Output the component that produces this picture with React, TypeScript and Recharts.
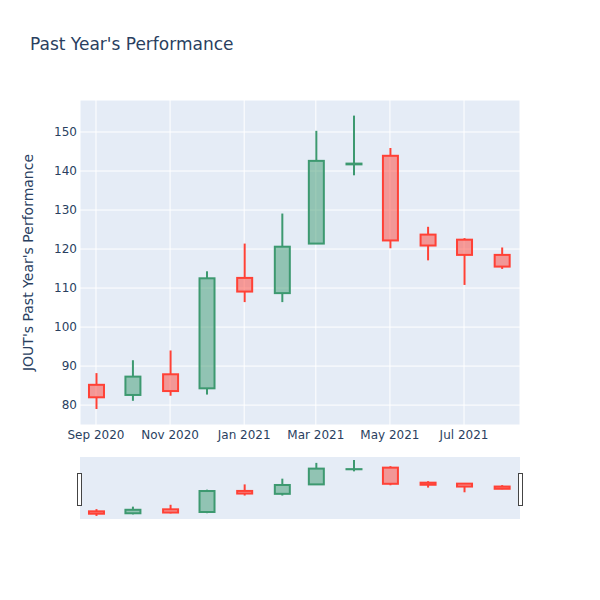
import React from 'react';
import { ComposedChart, Bar, XAxis, YAxis, CartesianGrid } from 'recharts';

// monthly candles
const dates = [
  '2020-09-01', '2020-10-01', '2020-11-01', '2020-12-01', '2021-01-01', '2021-02-01',
  '2021-03-01', '2021-04-01', '2021-05-01', '2021-06-01', '2021-07-01', '2021-08-01',
];
const openVals = [85.2, 82.6, 87.9, 84.3, 112.6, 108.7, 121.4, 141.7, 143.9, 123.7, 122.4, 118.5];
const highVals = [88.2, 91.5, 94.0, 114.3, 121.4, 129.1, 150.3, 154.2, 145.9, 125.7, 122.8, 120.4];
const lowVals = [79.0, 81.1, 82.4, 82.7, 106.4, 106.4, 121.3, 138.9, 120.2, 117.1, 110.8, 114.9];
const closeVals = [82.0, 87.3, 83.6, 112.5, 109.1, 120.6, 142.6, 141.9, 122.2, 120.9, 118.5, 115.5];

const xTickDates = ['2020-09-01', '2020-11-01', '2021-01-01', '2021-03-01', '2021-05-01', '2021-07-01'];
const yTicks = [80, 90, 100, 110, 120, 130, 140, 150];
const MONTHS = ['Jan', 'Feb', 'Mar', 'Apr', 'May', 'Jun', 'Jul', 'Aug', 'Sep', 'Oct', 'Nov', 'Dec'];

const ts = (s: string) => new Date(s + 'T00:00:00Z').getTime();

const data = dates.map((d, i) => ({
  t: ts(d),
  open: openVals[i],
  high: highVals[i],
  low: lowVals[i],
  close: closeVals[i],
}));

const xDomain = [Date.UTC(2020, 7, 18, 20), Date.UTC(2021, 7, 16, 2)];
const yDomain = [74.9, 158.2];

const UP = '#3D9970';
const DOWN = '#FF4136';
const FONT = '"DejaVu Sans", verdana, arial, sans-serif';
const INK = '#2a3f5f';

const fmtTick = (v: number) => {
  const d = new Date(v);
  return `${MONTHS[d.getUTCMonth()]} ${d.getUTCFullYear()}`;
};

const Candle = (props: any) => {
  const { x, y, width, height } = props;
  const p = props.payload || props;
  const top = Math.min(y, y + height);
  const h = Math.abs(height);
  const k = h / (p.high - p.low || 1);
  const up = p.close >= p.open;
  const color = up ? UP : DOWN;
  const cx = x + width / 2;
  const bodyTop = top + (p.high - Math.max(p.open, p.close)) * k;
  const bodyBot = top + (p.high - Math.min(p.open, p.close)) * k;
  return (
    <g>
      <line x1={cx} x2={cx} y1={top} y2={bodyTop} stroke={color} strokeWidth={2} />
      <line x1={cx} x2={cx} y1={bodyBot} y2={top + h} stroke={color} strokeWidth={2} />
      <rect
        x={x + 1}
        y={bodyTop}
        width={width - 2}
        height={Math.max(bodyBot - bodyTop, 0)}
        fill={color}
        fillOpacity={0.5}
        stroke={color}
        strokeWidth={2}
      />
    </g>
  );
};

const range = (d: any) => [d.low, d.high];

export default function App() {
  return (
    <div style={{ position: 'absolute', left: 0, top: 0, width: 600, height: 600, background: '#fff' }}>
      <div style={{ position: 'absolute', left: 0, top: 0 }}>
        <ComposedChart width={600} height={450} data={data} margin={{ top: 100, right: 80, bottom: 0, left: 30 }}>
          <CartesianGrid fill="#E5ECF6" stroke="#fff" strokeWidth={1} />
          <XAxis
            dataKey="t"
            type="number"
            scale="time"
            domain={xDomain}
            allowDataOverflow
            ticks={xTickDates.map(ts)}
            tickFormatter={fmtTick}
            axisLine={false}
            tickLine={false}
            tickSize={0}
            tickMargin={5}
            height={25}
            tick={{ fill: INK, fontSize: 12, fontFamily: FONT }}
          />
          <YAxis
            type="number"
            domain={yDomain}
            allowDataOverflow
            ticks={yTicks}
            axisLine={false}
            tickLine={false}
            tickSize={0}
            tickMargin={3}
            width={50}
            tick={{ fill: INK, fontSize: 12, fontFamily: FONT }}
          />
          <Bar dataKey={range} barSize={17} shape={<Candle />} isAnimationActive={false} />
        </ComposedChart>
      </div>

      <div style={{ position: 'absolute', left: 0, top: 440 }}>
        <ComposedChart width={600} height={100} data={data} margin={{ top: 17, right: 80, bottom: 21, left: 80 }}>
          <CartesianGrid fill="#E5ECF6" horizontal={false} vertical={false} />
          <XAxis dataKey="t" type="number" scale="time" domain={xDomain} allowDataOverflow hide />
          <YAxis type="number" domain={yDomain} allowDataOverflow hide />
          <Bar dataKey={range} barSize={17} shape={<Candle />} isAnimationActive={false} />
        </ComposedChart>
      </div>

      <svg width={600} height={600} style={{ position: 'absolute', left: 0, top: 0, pointerEvents: 'none' }}>
        <text x={30} y={50} fill={INK} fontSize={17} fontFamily={FONT}>
          Past Year's Performance
        </text>
        <text
          x={0}
          y={0}
          transform="translate(33,262.5) rotate(-90)"
          textAnchor="middle"
          fill={INK}
          fontSize={14}
          fontFamily={FONT}
        >
          JOUT's Past Year's Performance
        </text>
        <rect x={77.5} y={473.5} width={4} height={32} fill="#fff" stroke="#444" strokeWidth={1} />
        <rect x={518.5} y={473.5} width={4} height={32} fill="#fff" stroke="#444" strokeWidth={1} />
      </svg>
    </div>
  );
}
